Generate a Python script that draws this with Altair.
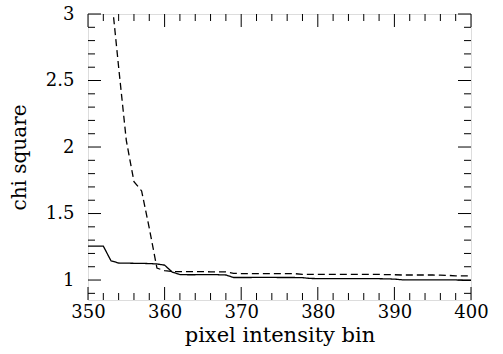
import altair as alt
import pandas as pd

# ---- data ----
bins = list(range(350, 401))
solid = [1.255, 1.255, 1.255, 1.145, 1.128, 1.127, 1.126, 1.125, 1.124, 1.121,
         1.112, 1.060, 1.041, 1.040, 1.040, 1.041, 1.041, 1.040, 1.038, 1.019,
         1.019, 1.019, 1.020, 1.020, 1.020, 1.019, 1.019, 1.019, 1.018, 1.012,
         1.011, 1.011, 1.011, 1.011, 1.010, 1.010, 1.010, 1.010, 1.010, 1.009,
         1.007, 1.002, 1.002, 1.002, 1.002, 1.002, 1.002, 1.001, 1.001, 0.998,
         0.998]
dashed = [5.2, 4.5, 3.8, 3.17, 2.6, 2.05, 1.74, 1.67, 1.39, 1.09,
          1.07, 1.064, 1.063, 1.063, 1.063, 1.063, 1.062, 1.062, 1.061, 1.050,
          1.049, 1.049, 1.049, 1.049, 1.049, 1.048, 1.048, 1.048, 1.043, 1.043,
          1.043, 1.043, 1.043, 1.043, 1.043, 1.042, 1.042, 1.042, 1.042, 1.041,
          1.040, 1.038, 1.038, 1.038, 1.038, 1.038, 1.037, 1.035, 1.032, 1.032,
          1.032]

x_major = [350, 360, 370, 380, 390, 400]
x_minor = [352, 354, 356, 358, 362, 364, 366, 368, 372, 374, 376, 378,
           382, 384, 386, 388, 392, 394, 396, 398]
y_major = [1.0, 1.5, 2.0, 2.5, 3.0]
y_minor = [0.9, 1.1, 1.2, 1.3, 1.4, 1.6, 1.7, 1.8, 1.9, 2.1, 2.2, 2.3, 2.4,
           2.6, 2.7, 2.8, 2.9]

W, H = 383, 286
FONT = "DejaVu Serif"
MAJ, MIN = 13, 7

df = pd.DataFrame({
    "bin": bins * 2,
    "chi": solid + dashed,
    "series": ["solid"] * len(bins) + ["dashed"] * len(bins),
})

xscale = alt.Scale(domain=[350, 400], nice=False, zero=False)
yscale = alt.Scale(domain=[0.85, 3.0], nice=False, zero=False)

lines = alt.Chart(df).mark_line(clip=True, strokeWidth=1.3, color="black").encode(
    x=alt.X("bin:Q", scale=xscale,
            axis=alt.Axis(values=x_major, ticks=False, domain=False, grid=False,
                          labelFlush=False, labelOverlap=False,
                          labelFont=FONT, labelFontSize=18, labelPadding=3,
                          labelColor="black", title="pixel intensity bin",
                          titleFont=FONT, titleFontSize=21, titleFontWeight="normal",
                          titleColor="black", titlePadding=3)),
    y=alt.Y("chi:Q", scale=yscale,
            axis=alt.Axis(values=y_major, ticks=False, domain=False, grid=False,
                          labelFlush=False, labelOverlap=False,
                          format="~g", labelFont=FONT, labelFontSize=18,
                          labelPadding=14, labelColor="black", title="chi square",
                          titleFont=FONT, titleFontSize=20, titleFontWeight="normal",
                          titleColor="black", titlePadding=16)),
    strokeDash=alt.StrokeDash("series:N",
                              scale=alt.Scale(domain=["solid", "dashed"],
                                              range=[[1, 0], [7, 4]]),
                              legend=None),
    detail="series:N",
)


def xticks(vals, length, top):
    d = pd.DataFrame({"v": vals})
    if top:
        yv, y2v = alt.value(0), alt.value(length)
    else:
        yv, y2v = alt.value(H), alt.value(H - length)
    return alt.Chart(d).mark_rule(color="black", strokeWidth=1).encode(
        x=alt.X("v:Q", scale=xscale), y=yv, y2=y2v)


def yticks(vals, length, right):
    d = pd.DataFrame({"v": vals})
    if right:
        xv, x2v = alt.value(W), alt.value(W - length)
    else:
        xv, x2v = alt.value(0), alt.value(length)
    return alt.Chart(d).mark_rule(color="black", strokeWidth=1).encode(
        y=alt.Y("v:Q", scale=yscale), x=xv, x2=x2v)


chart = alt.layer(
    xticks(x_major, MAJ, False), xticks(x_minor, MIN, False),
    xticks(x_major, MAJ, True), xticks(x_minor, MIN, True),
    yticks(y_major, MAJ, False), yticks(y_minor, MIN, False),
    yticks(y_major, MAJ, True), yticks(y_minor, MIN, True),
    lines,
).properties(
    width=W, height=H,
    autosize=alt.AutoSizeParams(type="none"),
    padding={"left": 88, "top": 14, "right": 32, "bottom": 54},
).configure_view(stroke="black", strokeWidth=1.5).configure(background="white")

chart.save("out.html", embed_options={"renderer": "svg", "actions": False})
